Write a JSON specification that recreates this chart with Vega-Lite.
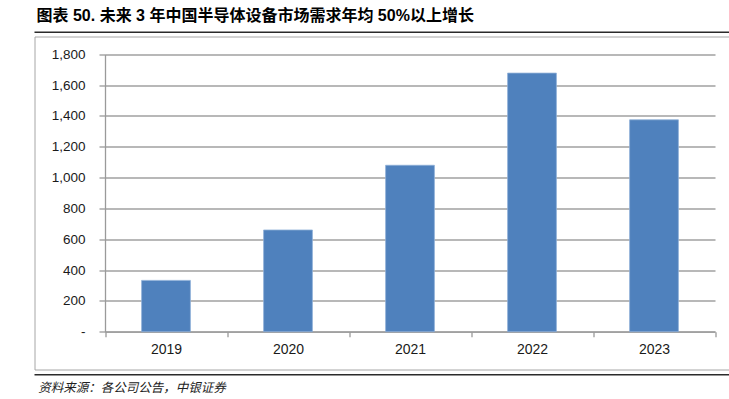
{
  "$schema": "https://vega.github.io/schema/vega-lite/v6.json",
  "autosize": {"type": "none"},
  "padding": {"left": 34.5, "top": 36.5, "right": 0, "bottom": 30},
  "width": 696,
  "height": 333,
  "background": "white",
  "config": {
    "view": {"stroke": "#a6a6a6", "strokeWidth": 1},
    "font": "Liberation Sans, Noto Sans CJK SC"
  },
  "title": {
    "text": "图表 50. 未来 3 年中国半导体设备市场需求年均 50%以上增长",
    "anchor": "start",
    "frame": "group",
    "dx": 2,
    "offset": 8,
    "fontSize": 16,
    "fontWeight": "bold",
    "color": "#000000",
    "font": "Liberation Sans, Noto Sans CJK SC"
  },
  "data": {
    "values": [
      {"year": "2019", "value": 333},
      {"year": "2020", "value": 660},
      {"year": "2021", "value": 1080},
      {"year": "2022", "value": 1678},
      {"year": "2023", "value": 1375}
    ]
  },
  "resolve": {"scale": {"x": "independent"}, "axis": {"x": "independent", "y": "independent"}},
  "layer": [
    {
      "mark": {"type": "bar", "width": {"band": 0.4}, "color": "#4F81BD", "stroke": "#8fb0d8", "strokeWidth": 0.8},
      "encoding": {
        "x": {
          "field": "year", "type": "ordinal",
          "scale": {"range": [70.5, 680.5], "paddingInner": 0, "paddingOuter": 0},
          "axis": {
            "orient": "bottom", "offset": -37.8, "title": null,
            "tickBand": "extent", "labelAngle": 0,
            "domainColor": "#9a9a9a", "domainWidth": 1.3,
            "tickColor": "#9a9a9a", "tickWidth": 1.3, "tickSize": 5,
            "labelFontSize": 14, "labelColor": "#1a1a1a", "labelPadding": 13,
            "labelBaseline": "middle", "labelFont": "Liberation Sans"
          }
        },
        "y": {
          "field": "value", "type": "quantitative",
          "scale": {"domain": [0, 1800], "range": [295.2, 17.8], "nice": false, "zero": true},
          "axis": {
            "orient": "left", "offset": -70.5, "title": null,
            "values": [0, 200, 400, 600, 800, 1000, 1200, 1400, 1600, 1800],
            "format": ",d",
            "labelOverlap": false,
            "labelExpr": "datum.value == 0 ? '-\u00a0\u00a0' : datum.label",
            "grid": true, "gridColor": "#a0a0a0", "gridWidth": 1.4,
            "domainColor": "#9a9a9a", "domainWidth": 1.3,
            "tickColor": "#9a9a9a", "tickWidth": 1.3, "tickSize": 6,
            "labelFontSize": 13.5, "labelColor": "#1a1a1a", "labelPadding": 14,
            "labelFont": "Liberation Sans"
          }
        }
      }
    },
    {
      "mark": {"type": "bar", "opacity": 0},
      "encoding": {
        "x": {
          "field": "year", "type": "ordinal",
          "scale": {"range": [-1.5, 700]},
          "axis": {
            "orient": "bottom", "offset": 5, "labels": false, "ticks": false, "grid": false, "domain": false,
            "title": "资料来源：各公司公告，中银证券",
            "titleAnchor": "start", "titleAlign": "left", "titleBaseline": "middle",
            "titleX": 3.2, "titleY": 12.5,
            "titleFont": "Noto Sans CJK SC", "titleFontSize": 12.5,
            "titleFontStyle": "italic", "titleFontWeight": "normal", "titleColor": "#222222"
          }
        },
        "y": {"field": "value", "type": "quantitative", "axis": null}
      }
    },
    {
      "data": {"values": [{"k": 1}]},
      "mark": {"type": "rule", "color": "#2b2b2b", "strokeWidth": 1.4},
      "encoding": {"y": {"datum": 1943, "type": "quantitative", "axis": null}}
    },
    {
      "data": {"values": [{"k": 1}]},
      "mark": {"type": "rule", "color": "#2b2b2b", "strokeWidth": 1.4},
      "encoding": {"y": {"datum": -279, "type": "quantitative", "axis": null}}
    }
  ]
}
